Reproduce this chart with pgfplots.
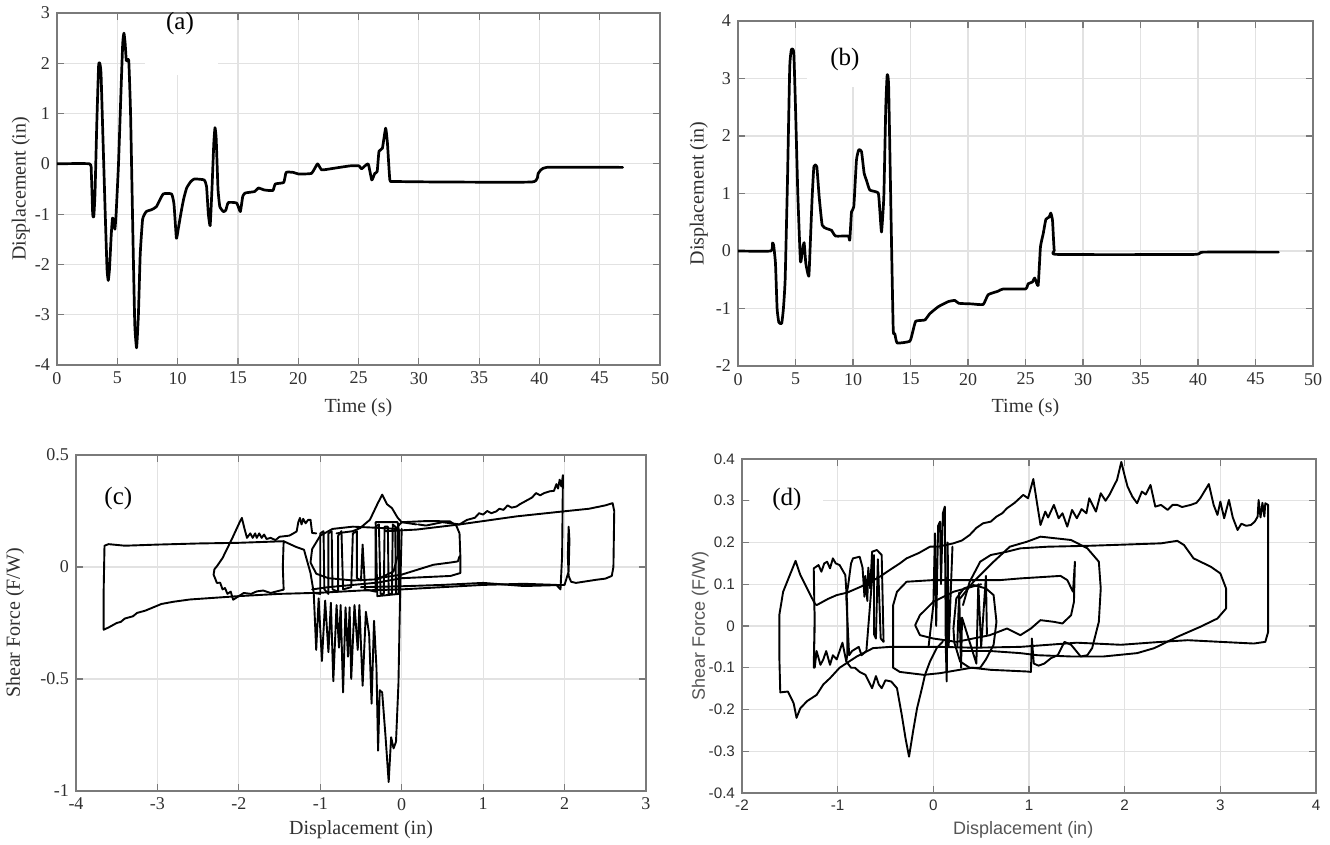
\documentclass[border=0pt]{standalone}
\usepackage{fontspec}
\setmainfont{Liberation Serif}
\newfontfamily\arialfont{Liberation Sans}
\usepackage{pgfplots}
\pgfplotsset{compat=1.18}
\definecolor{tickc}{HTML}{303030}
\definecolor{gridc}{HTML}{E2E2E2}
\definecolor{boxc}{HTML}{7A7A7A}
\definecolor{dlab}{HTML}{555555}
\pgfplotsset{mstyle/.style={
  scale only axis,
  axis line style={boxc, line width=0.7pt},
  grid=major, major grid style={gridc, line width=0.6pt},
  tick style={boxc, line width=0.6pt}, tick align=inside, major tick length=3.5pt,
  tick label style={font=\fontsize{9}{10}\selectfont, text=tickc},
  label style={font=\fontsize{10}{12}\selectfont, text=tickc},
  /pgf/number format/assume math mode=true,
  /pgf/number format/fixed,
  cycle list={{black, solid, mark=none}},
  every axis plot/.append style={black, line width=1.1pt, line join=round, line cap=round, mark=none},
}}
\begin{document}
\begin{tikzpicture}
\useasboundingbox (0pt,0pt) rectangle (665pt,422.5pt);
% ---------------- (a)
\begin{axis}[mstyle, at={(28.5pt,240pt)}, anchor=south west, width=301.5pt, height=176pt,
  xmin=0, xmax=50, ymin=-4, ymax=3, xtick={0,5,...,50}, ytick={-4,-3,...,3},
  every axis plot/.append style={line width=1.35pt},
  xlabel={Time (s)}, ylabel={Displacement (in)},
  xlabel style={at={(axis description cs:0.5,-0.122)}, anchor=center},
  ylabel style={at={(axis description cs:-0.06,0.5)}, anchor=center}]
\fill[white] (axis cs:7.3,2.98) rectangle (axis cs:13.35,1.77);
\node[font=\fontsize{12.5}{14}\selectfont] at (axis cs:10.2,2.8) {(a)};
\addplot[smooth, tension=0.25] coordinates {(0,0) (2.7,0) (2.85,-0.2) (2.96,-1.0) (3.05,-1.05) (3.15,-0.6) (3.3,0.8) (3.45,1.95) (3.55,2.0) (3.65,1.8) (3.8,0.6) (4.0,-1.0) (4.15,-2.1) (4.25,-2.32) (4.35,-2.1) (4.5,-1.4) (4.6,-1.08) (4.7,-1.12) (4.8,-1.3) (4.9,-1.0) (5.1,0.0) (5.3,1.4) (5.45,2.4) (5.55,2.6) (5.65,2.4) (5.75,2.05) (5.95,2.05) (6.1,1.0) (6.3,-1.5) (6.45,-3.2) (6.6,-3.66) (6.75,-3.0) (6.9,-1.8) (7.1,-1.1) (7.4,-0.95) (7.85,-0.91) (8.25,-0.85) (8.8,-0.6) (9.5,-0.6) (9.7,-0.8) (9.9,-1.48) (10.05,-1.3) (10.3,-0.95) (10.5,-0.7) (10.75,-0.48) (11.1,-0.35) (11.4,-0.3) (12.2,-0.32) (12.4,-0.45) (12.55,-1.0) (12.7,-1.23) (12.85,-0.5) (13.0,0.4) (13.1,0.72) (13.2,0.5) (13.35,-0.5) (13.5,-0.85) (13.8,-0.95) (14.0,-0.92) (14.2,-0.77) (14.9,-0.78) (15.2,-0.95) (15.4,-0.65) (15.6,-0.58) (16.4,-0.55) (16.7,-0.48) (17.2,-0.52) (17.9,-0.53) (18.1,-0.4) (18.8,-0.37) (19.0,-0.17) (19.6,-0.17) (20.0,-0.2) (21.1,-0.19) (21.6,0.0) (21.95,-0.12) (22.9,-0.09) (24.3,-0.04) (25.05,-0.04) (25.25,-0.1) (25.8,0.0) (26.1,-0.32) (26.35,-0.19) (26.55,-0.15) (26.7,0.25) (26.98,0.31) (27.25,0.71) (27.4,0.41) (27.6,-0.32) (27.9,-0.35) (31.5,-0.36) (39.4,-0.36) (39.9,-0.19) (40.6,-0.07) (46.9,-0.07)};
\end{axis}
% ---------------- (b)
\begin{axis}[mstyle, at={(369pt,239.5pt)}, anchor=south west, width=287.5pt, height=172.5pt,
  xmin=0, xmax=50, ymin=-2, ymax=4, xtick={0,5,...,50}, ytick={-2,-1,...,4},
  every axis plot/.append style={line width=1.35pt},
  xlabel={Time (s)}, ylabel={Displacement (in)},
  xlabel style={at={(axis description cs:0.5,-0.122)}, anchor=center},
  ylabel style={at={(axis description cs:-0.068,0.5)}, anchor=center}]
\fill[white] (axis cs:6.0,3.98) rectangle (axis cs:12.5,2.86);
\node[font=\fontsize{12.5}{14}\selectfont] at (axis cs:9.3,3.33) {(b)};
\addplot[smooth, tension=0.25] coordinates {(0,0) (2.85,0) (3.0,0.14) (3.1,0.1) (3.26,-0.22) (3.4,-1.0) (3.55,-1.24) (3.8,-1.26) (3.95,-1.0) (4.1,-0.5) (4.3,1.2) (4.5,3.2) (4.65,3.51) (4.85,3.45) (5.0,2.5) (5.2,1.0) (5.43,-0.19) (5.6,0.01) (5.75,0.145) (5.9,-0.22) (6.16,-0.44) (6.3,0.2) (6.45,0.94) (6.6,1.47) (6.85,1.47) (7.06,0.94) (7.32,0.45) (7.7,0.39) (8.13,0.36) (8.48,0.26) (9.58,0.26) (9.72,0.19) (9.87,0.68) (10.07,0.77) (10.3,1.58) (10.5,1.76) (10.74,1.73) (10.97,1.35) (11.17,1.23) (11.46,1.06) (12.19,1.01) (12.33,0.71) (12.48,0.33) (12.68,0.94) (12.85,2.5) (12.97,3.06) (13.1,2.86) (13.35,0.13) (13.5,-1.38) (13.64,-1.44) (13.84,-1.6) (14.94,-1.57) (15.2,-1.4) (15.46,-1.22) (16.25,-1.2) (16.68,-1.09) (17.41,-0.97) (18.28,-0.88) (18.86,-0.86) (19.2,-0.91) (20.3,-0.92) (21.32,-0.93) (21.75,-0.76) (22.6,-0.7) (23.06,-0.66) (25.0,-0.66) (25.23,-0.57) (25.6,-0.54) (25.8,-0.47) (26.1,-0.6) (26.3,0.07) (26.54,0.3) (26.77,0.55) (27.06,0.59) (27.2,0.66) (27.35,0.53) (27.5,0.01) (27.84,-0.06) (39.58,-0.06) (40.45,-0.02) (47,-0.02)};
\end{axis}
% ---------------- (c)
\begin{axis}[mstyle, at={(38pt,27pt)}, anchor=south west, width=285pt, height=168pt,
  xmin=-4, xmax=3, ymin=-1, ymax=0.5, xtick={-4,-3,...,3}, ytick={-1,-0.5,0,0.5},
  every axis plot/.append style={line width=0.95pt},
  xlabel={Displacement (in)}, ylabel={Shear Force (F/W)},
  xlabel style={at={(axis description cs:0.5,-0.116)}, anchor=center},
  ylabel style={at={(axis description cs:-0.107,0.5)}, anchor=center}]
\node[font=\fontsize{12.5}{14}\selectfont] at (axis cs:-3.48,0.308) {(c)};
\addplot coordinates {(-1.45,0.115) (-2.0,0.108) (-2.5,0.105) (-3.0,0.100) (-3.4,0.095) (-3.6,0.102) (-3.65,0.095) (-3.66,-0.1) (-3.66,-0.28) (-3.6,-0.27) (-3.5,-0.25) (-3.45,-0.245) (-3.4,-0.23) (-3.3,-0.22) (-3.25,-0.205) (-3.15,-0.195) (-3.05,-0.18) (-2.95,-0.165) (-2.8,-0.155) (-2.6,-0.145) (-2.4,-0.14) (-2.0,-0.13) (-1.5,-0.12) (-1.0,-0.115) (-0.5,-0.105) (0.0,-0.10) (0.5,-0.09) (1.0,-0.08) (1.5,-0.075) (1.9,-0.08) (1.95,-0.1) (1.97,0.05) (1.98,0.41) (1.96,0.36) (1.94,0.39) (1.92,0.35) (1.9,0.37) (1.87,0.34) (1.82,0.338) (1.75,0.33) (1.7,0.32) (1.65,0.33) (1.6,0.31) (1.5,0.29) (1.45,0.28) (1.41,0.27) (1.35,0.265) (1.3,0.275) (1.25,0.255) (1.2,0.26) (1.16,0.248) (1.1,0.24) (1.05,0.25) (1.0,0.234) (0.95,0.24) (0.9,0.22) (0.8,0.21) (0.71,0.19) (0.5,0.2) (0.3,0.185) (0.2,0.19)};
\addplot coordinates {(-0.2,0.16) (0.18,0.167) (0.71,0.19) (1.41,0.226) (1.98,0.248) (2.3,0.26) (2.5,0.275) (2.59,0.285) (2.61,0.25) (2.6,0.0) (2.58,-0.04) (2.5,-0.052) (2.39,-0.057) (2.14,-0.071) (2.08,-0.066) (2.05,-0.04) (2.04,0.05) (2.05,0.18) (2.06,0.12) (2.05,-0.02) (2.0,-0.08) (1.5,-0.085) (1.0,-0.071) (0.5,-0.08) (0,-0.086) (-0.5,-0.09)};
\addplot coordinates {(-0.1,0.16) (0,0.2) (0.3,0.205) (0.59,0.204) (0.67,0.185) (0.71,0.15) (0.72,0.05) (0.72,-0.027) (0.6,-0.04) (0.3,-0.045) (0.0,-0.05) (-0.3,-0.07) (-0.6,-0.08) (-0.9,-0.09) (-1.1,-0.1)};
\addplot coordinates {(-0.3,-0.05) (0,-0.034) (0.39,0.01) (0.6,0.02) (0.69,0.025) (0.71,0.048)};
\addplot coordinates {(-0.8,0.15) (-0.6,0.16) (-0.51,0.174) (-0.39,0.211) (-0.3,0.28) (-0.24,0.323) (-0.18,0.28) (-0.12,0.263) (-0.05,0.22) (0.0,0.2) (0.18,0.19)};
\addplot coordinates {(-1.45,-0.101) (-1.61,-0.116) (-1.7,-0.105) (-1.78,-0.109) (-1.85,-0.12) (-1.94,-0.116) (-2.0,-0.13) (-2.07,-0.146) (-2.1,-0.11) (-2.14,-0.12) (-2.17,-0.094) (-2.2,-0.1) (-2.23,-0.07) (-2.27,-0.071) (-2.31,-0.034) (-2.3,-0.01) (-2.27,0.003) (-2.2,0.04) (-2.15,0.077) (-2.07,0.137) (-1.99,0.2) (-1.963,0.219) (-1.93,0.17) (-1.9,0.13) (-1.86,0.15) (-1.83,0.13) (-1.8,0.15) (-1.78,0.13) (-1.75,0.15) (-1.72,0.13) (-1.69,0.145) (-1.66,0.125) (-1.61,0.13) (-1.55,0.12) (-1.5,0.135) (-1.45,0.137) (-1.38,0.14) (-1.33,0.15) (-1.29,0.159) (-1.27,0.2) (-1.25,0.219) (-1.23,0.19) (-1.21,0.215) (-1.18,0.195) (-1.15,0.21) (-1.12,0.211) (-1.1,0.152) (-1.05,0.15)};
\addplot coordinates {(-1.45,-0.1) (-1.46,0.0) (-1.45,0.115) (-1.3,0.09) (-1.2,0.077) (-1.12,-0.027) (-1.08,-0.116) (-1.0,-0.12)};
\addplot coordinates {(-0.05,0.17) (-0.3,0.175) (-0.6,0.18) (-0.85,0.17) (-1.0,0.14) (-1.1,0.08) (-1.12,0.02) (-1.05,-0.03) (-0.9,-0.05) (-0.6,-0.06) (-0.3,-0.055) (-0.1,-0.02) (-0.05,0.05) (-0.05,0.17)};
\addplot coordinates {(-1.0,-0.12) (-1.0,0.15) (-0.96,0.16) (-0.95,-0.1) (-0.9,-0.12) (-0.9,0.15) (-0.86,0.16) (-0.85,-0.1) (-0.78,-0.11) (-0.78,0.14) (-0.74,0.16) (-0.72,-0.1) (-0.62,-0.09) (-0.6,0.15) (-0.55,0.16) (-0.55,-0.05) (-0.5,-0.06) (-0.48,0.1) (-0.45,-0.1) (-0.32,-0.11) (-0.32,0.18) (-0.28,0.19) (-0.26,-0.12) (-0.22,-0.12) (-0.21,0.18) (-0.17,0.18) (-0.16,-0.12) (-0.12,-0.12) (-0.11,0.19) (-0.08,0.18) (-0.07,-0.12) (-0.04,-0.12) (-0.04,0.17)};
\addplot coordinates {(-0.32,0.2) (-0.05,0.2) (-0.03,0.15) (-0.03,-0.12) (-0.3,-0.13) (-0.32,0.2)};
\addplot coordinates {(-1.08,-0.12) (-1.05,-0.37) (-1.02,-0.14) (-0.98,-0.42) (-0.94,-0.15) (-0.9,-0.38) (-0.87,-0.16) (-0.84,-0.51) (-0.8,-0.17) (-0.77,-0.36) (-0.75,-0.17) (-0.72,-0.56) (-0.69,-0.18) (-0.66,-0.4) (-0.64,-0.18) (-0.62,-0.5) (-0.58,-0.17) (-0.54,-0.37) (-0.52,-0.17) (-0.48,-0.53) (-0.44,-0.2) (-0.4,-0.3) (-0.37,-0.61) (-0.34,-0.24) (-0.31,-0.45) (-0.29,-0.82) (-0.27,-0.55) (-0.24,-0.56) (-0.2,-0.75) (-0.16,-0.96) (-0.13,-0.76) (-0.1,-0.81) (-0.07,-0.78) (-0.04,-0.52) (-0.02,-0.13) (0,0.17)};
\end{axis}
% ---------------- (d)
\begin{axis}[mstyle, at={(371pt,26pt)}, anchor=south west, width=287pt, height=167pt,
  xmin=-2, xmax=4, ymin=-0.4, ymax=0.4, xtick={-2,-1,...,4},
  ytick={-0.4,-0.3,-0.2,-0.1,0,0.1,0.2,0.3,0.4},
  tick label style={font=\arialfont\fontsize{7.6}{9}\selectfont, text=tickc},
  label style={font=\arialfont\fontsize{9}{11}\selectfont, text=dlab},
  every axis plot/.append style={line width=0.95pt},
  xlabel={Displacement (in)}, ylabel={Shear Force (F/W)},
  xlabel style={at={(axis description cs:0.49,-0.11)}, anchor=center},
  ylabel style={at={(axis description cs:-0.073,0.5)}, anchor=center}]
\fill[white] (axis cs:-1.92,0.36) rectangle (axis cs:-1.15,0.25);
\node[font=\fontsize{12.5}{14}\selectfont] at (axis cs:-1.53,0.302) {(d)};
\addplot coordinates {(-1.24,0.054) (-1.22,0.05) (-1.1,0.065) (-1.01,0.074) (-0.9,0.08) (-0.8,0.09) (-0.7,0.1) (-0.56,0.118) (-0.45,0.135) (-0.35,0.15) (-0.28,0.162) (-0.15,0.175) (-0.035,0.19) (0.05,0.19) (0.21,0.198) (0.3,0.205) (0.38,0.218) (0.45,0.235) (0.52,0.246) (0.6,0.25) (0.66,0.262) (0.72,0.27) (0.77,0.282) (0.85,0.295) (0.94,0.314) (0.99,0.306) (1.045,0.352) (1.08,0.3) (1.12,0.242) (1.17,0.274) (1.2,0.26) (1.26,0.29) (1.31,0.258) (1.35,0.27) (1.4,0.238) (1.45,0.278) (1.5,0.258) (1.55,0.28) (1.6,0.27) (1.63,0.306) (1.7,0.274) (1.75,0.318) (1.8,0.3) (1.84,0.314) (1.92,0.35) (1.965,0.393) (2.0,0.36) (2.03,0.334) (2.08,0.31) (2.13,0.294) (2.18,0.322) (2.22,0.315) (2.27,0.338) (2.32,0.286) (2.38,0.29) (2.45,0.278) (2.5,0.29) (2.55,0.29) (2.6,0.285) (2.69,0.29) (2.75,0.295) (2.79,0.306) (2.88,0.34) (2.93,0.29) (2.97,0.266) (3.0,0.298) (3.04,0.258) (3.09,0.302) (3.13,0.26) (3.18,0.23) (3.22,0.245) (3.27,0.24) (3.32,0.242) (3.36,0.25) (3.39,0.262) (3.4,0.302) (3.42,0.26) (3.44,0.295) (3.46,0.262) (3.47,0.294) (3.5,0.29) (3.5,0.1) (3.5,-0.014) (3.47,-0.038) (3.35,-0.042) (3.0,-0.038) (2.66,-0.034) (2.38,-0.038) (1.96,-0.045) (1.5,-0.04) (0.91,-0.05) (0.42,-0.052) (0.07,-0.05) (-0.45,-0.05) (-0.63,-0.053) (-0.8,-0.073) (-0.98,-0.10) (-1.08,-0.125) (-1.15,-0.14) (-1.22,-0.165) (-1.32,-0.18) (-1.39,-0.197) (-1.43,-0.22) (-1.46,-0.185) (-1.52,-0.157) (-1.6,-0.159) (-1.61,-0.07) (-1.61,0.026) (-1.57,0.082) (-1.5,0.122) (-1.44,0.156) (-1.39,0.122) (-1.32,0.09) (-1.24,0.054)};
\addplot coordinates {(-0.91,-0.085) (-0.86,-0.1) (-0.82,-0.10) (-0.77,-0.11) (-0.71,-0.117) (-0.67,-0.135) (-0.64,-0.149) (-0.6,-0.12) (-0.57,-0.14) (-0.54,-0.149) (-0.5,-0.13) (-0.44,-0.133) (-0.38,-0.149) (-0.33,-0.213) (-0.29,-0.27) (-0.254,-0.313) (-0.21,-0.25) (-0.17,-0.197) (-0.12,-0.15) (-0.087,-0.117) (-0.035,-0.085) (0.035,-0.053) (0.1,-0.037)};
\addplot coordinates {(-1.24,0.034) (-1.25,-0.1) (-1.24,0.0) (-1.25,0.138) (-1.2,0.146) (-1.17,0.13) (-1.14,0.15) (-1.11,0.154) (-1.08,0.138) (-1.05,0.162) (-1.02,0.15) (-0.98,0.146) (-0.92,0.122) (-0.9,0.05) (-0.9,-0.07) (-0.91,-0.085) (-0.95,-0.04) (-0.98,-0.06) (-1.01,-0.08) (-1.05,-0.07) (-1.08,-0.093) (-1.12,-0.06) (-1.15,-0.08) (-1.18,-0.093) (-1.22,-0.06) (-1.24,-0.1)};
\addplot coordinates {(-0.91,0.07) (-0.89,0.098) (-0.86,0.15) (-0.84,0.162) (-0.77,0.166) (-0.74,0.14) (-0.72,0.07) (-0.71,0.12) (-0.69,0.06) (-0.68,0.14) (-0.66,0.09) (-0.64,0.178) (-0.59,0.182) (-0.56,0.175) (-0.54,0.17) (-0.52,-0.038) (-0.55,-0.03) (-0.58,0.16) (-0.6,-0.03) (-0.62,-0.02) (-0.62,0.17) (-0.7,-0.06) (-0.75,-0.07) (-0.78,-0.05) (-0.85,-0.06) (-0.88,-0.07) (-0.91,0.07)};
\addplot coordinates {(-0.05,-0.05) (0.0,0.05) (0.017,0.222) (0.03,0.0) (0.05,0.24) (0.07,0.25) (0.08,0.1) (0.1,0.27) (0.12,0.286) (0.13,-0.05) (0.14,-0.133) (0.15,0.2) (0.16,-0.05) (0.2,0.19)};
\addplot coordinates {(0.25,-0.05) (0.27,0.08) (0.29,-0.1) (0.3,0.02) (0.45,-0.09) (0.47,0.1) (0.5,-0.05) (0.55,0.12) (0.56,-0.02)};
\addplot coordinates {(0.31,0.05) (0.38,0.106) (0.49,0.154) (0.6,0.17) (0.77,0.178) (0.91,0.186) (1.2,0.19) (1.61,0.192) (2.0,0.195) (2.38,0.198) (2.55,0.204) (2.62,0.194) (2.72,0.162) (2.9,0.142) (3.0,0.126) (3.06,0.09) (3.06,0.042) (2.97,0.018) (2.79,-0.002) (2.55,-0.026) (2.31,-0.053) (2.13,-0.065) (1.78,-0.073) (1.44,-0.073) (1.09,-0.07) (0.91,-0.065) (0.6,-0.06) (0.3,-0.06)};
\addplot coordinates {(0.28,0.066) (0.42,0.106) (0.63,0.154) (0.8,0.19) (0.98,0.202) (1.12,0.214) (1.44,0.206) (1.61,0.186) (1.73,0.154) (1.75,0.09) (1.73,0.01) (1.66,-0.053) (1.61,-0.07) (1.54,-0.073) (1.44,-0.045) (1.37,-0.038) (1.3,-0.07) (1.23,-0.077) (1.16,-0.09) (1.1,-0.095) (1.05,-0.09) (1.03,-0.03) (1.02,-0.11) (0.98,-0.109) (0.6,-0.105) (0.4,-0.1) (0.07,-0.113) (-0.1,-0.117) (-0.35,-0.11) (-0.42,-0.1) (-0.42,0.05) (-0.38,0.082) (-0.28,0.106) (0.0,0.11) (0.14,0.11) (0.4,0.11) (0.7,0.11) (0.91,0.114) (1.33,0.12) (1.4,0.11) (1.46,0.082) (1.48,0.154) (1.47,0.058) (1.44,0.026) (1.35,0.006) (1.26,0.01) (1.12,0.014) (1.02,-0.006) (0.91,-0.022) (0.77,-0.006) (0.59,-0.022) (0.24,-0.038) (0,-0.03) (-0.14,-0.022) (-0.19,0.002) (-0.14,0.026) (0,0.058) (0.21,0.082) (0.5,0.1)};
\addplot coordinates {(0.42,0.098) (0.55,0.09) (0.63,0.074) (0.66,0.01) (0.63,-0.045) (0.55,-0.08) (0.49,-0.1) (0.38,-0.1) (0.28,-0.085) (0.22,-0.04) (0.21,-0.006) (0.24,0.066) (0.32,0.09) (0.42,0.098)};
\end{axis}
\end{tikzpicture}
\end{document}
